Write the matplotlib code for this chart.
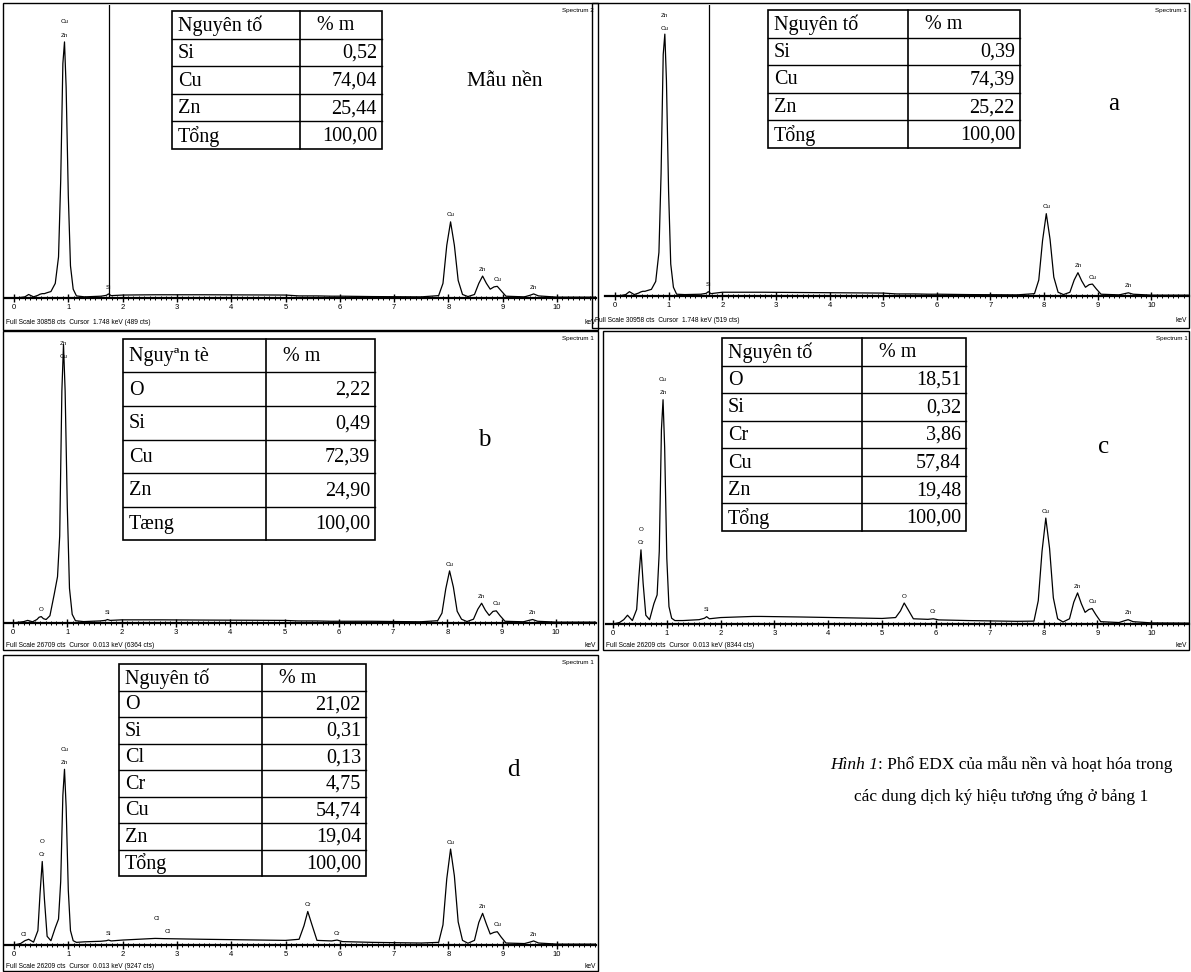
import matplotlib
matplotlib.use("Agg")
import matplotlib.pyplot as plt
import numpy as np
from matplotlib.patches import Rectangle

W, H = 1191, 972

# energy grid (keV) shared by the five EDX spectra
kev = [0.00, 0.12, 0.20, 0.27, 0.36, 0.44, 0.48, 0.52, 0.56, 0.61,
       0.68, 0.76, 0.82, 0.86, 0.90, 0.93, 0.96, 1.00, 1.04, 1.09,
       1.15, 1.30, 1.60, 1.70, 1.74, 1.79, 2.00, 2.60, 2.75, 3.50,
       5.00, 5.25, 5.34, 5.41, 5.48, 5.58, 5.85, 5.95, 6.05, 6.60,
       7.50, 7.82, 7.90, 7.97, 8.04, 8.11, 8.18, 8.26, 8.36, 8.48,
       8.56, 8.63, 8.70, 8.77, 8.84, 8.90, 8.97, 9.06, 9.40, 9.50,
       9.57, 9.66, 10.00, 10.75]

# counts
cts_nen = [0, 60, 120, 370, 120, 280, 400, 460, 460, 560,
           680, 1540, 4320, 12340, 24690, 26970, 22220, 10800, 3390, 930,
           220, 120, 190, 280, 430, 250, 310, 340, 340, 340,
           310, 220, 220, 220, 220, 220, 190, 190, 190, 150,
           120, 250, 1540, 5550, 8020, 5550, 1850, 370, 150, 370,
           1540, 2310, 1540, 930, 1170, 1230, 770, 190, 120, 280,
           430, 220, 90, 90]
cts_a = [0, 60, 150, 460, 150, 310, 430, 500, 500, 590,
         710, 1550, 4640, 13000, 25700, 27860, 22910, 11150, 3410, 930,
         190, 150, 190, 280, 460, 250, 400, 400, 400, 370,
         310, 220, 220, 220, 220, 220, 190, 190, 190, 150,
         120, 250, 1700, 5880, 8760, 6040, 2010, 400, 150, 400,
         1700, 2480, 1610, 930, 1210, 1270, 770, 190, 120, 250,
         340, 190, 90, 90]
cts_b = [0, 80, 130, 240, 110, 320, 530, 590, 400, 320,
         670, 2670, 4270, 8010, 21370, 25640, 21370, 10680, 3200, 800,
         210, 130, 190, 240, 320, 240, 290, 290, 290, 270,
         240, 190, 190, 190, 190, 190, 160, 160, 160, 160,
         110, 210, 910, 3150, 4800, 3310, 1080, 350, 130, 350,
         1270, 1820, 1170, 700, 1070, 1120, 670, 160, 110, 240,
         320, 160, 80, 80]
cts_c = [0, 130, 390, 790, 310, 1310, 4190, 6680, 3670, 790,
         390, 1830, 2620, 6550, 17500, 20200, 15900, 5900, 1570, 520,
         310, 310, 390, 520, 660, 470, 580, 680, 680, 630,
         500, 580, 1180, 1890, 1310, 470, 420, 470, 370, 310,
         240, 260, 2100, 6550, 9540, 6810, 2360, 470, 180, 470,
         1970, 2800, 1830, 1050, 1310, 1390, 840, 210, 130, 290,
         390, 210, 100, 80]
cts_d = [0, 130, 390, 520, 260, 1310, 4720, 7600, 4190, 790,
         390, 1570, 2360, 5770, 13630, 15990, 12580, 4980, 1310, 390,
         240, 290, 340, 390, 450, 370, 450, 600, 580, 520,
         420, 520, 1750, 3050, 1950, 420, 370, 450, 310, 240,
         180, 240, 1830, 6030, 8730, 6290, 2100, 420, 160, 420,
         2050, 2880, 1900, 1000, 1150, 1210, 730, 180, 130, 260,
         370, 180, 80, 80]

full_scale = [30858, 30958, 26709, 26209, 26209]
cursor_txt = ["Full Scale 30858 cts  Cursor  1.748 keV (489 cts)",
              "Full Scale 30958 cts  Cursor  1.748 keV (519 cts)",
              "Full Scale 26709 cts  Cursor  0.013 keV (6364 cts)",
              "Full Scale 26209 cts  Cursor  0.013 keV (8344 cts)",
              "Full Scale 26209 cts  Cursor  0.013 keV (9247 cts)"]
spectrum_name = ["Spectrum 2", "Spectrum 1", "Spectrum 1", "Spectrum 1", "Spectrum 1"]
cursor_kev = [1.748, 1.748, None, None, None]

# peak labels: (element, keV, stack level)
peaks_nen = [("Zn", 0.93, 0), ("Cu", 0.93, 1), ("Si", 1.74, 0), ("Cu", 8.04, 0),
             ("Zn", 8.63, 0), ("Cu", 8.90, 0), ("Zn", 9.57, 0)]
peaks_a = [("Cu", 0.93, 0), ("Zn", 0.93, 1), ("Si", 1.74, 0), ("Cu", 8.04, 0),
           ("Zn", 8.63, 0), ("Cu", 8.90, 0), ("Zn", 9.57, 0)]
peaks_b = [("Cu", 0.93, 0), ("Zn", 0.93, 1), ("O", 0.52, 0), ("Si", 1.74, 0),
           ("Cu", 8.04, 0), ("Zn", 8.63, 0), ("Cu", 8.90, 0), ("Zn", 9.57, 0)]
peaks_c = [("Cr", 0.52, 0), ("O", 0.52, 1), ("Zn", 0.93, 0), ("Cu", 0.93, 1),
           ("Si", 1.74, 0), ("O", 5.41, 0), ("Cr", 5.95, 0), ("Cu", 8.04, 0),
           ("Zn", 8.63, 0), ("Cu", 8.90, 0), ("Zn", 9.57, 0)]
peaks_d = [("Cl", 0.18, 0), ("Cr", 0.52, 0), ("O", 0.52, 1), ("Zn", 0.93, 0),
           ("Cu", 0.93, 1), ("Si", 1.74, 0), ("Cl", 2.62, 1), ("Cl", 2.82, 0),
           ("Cr", 5.41, 0), ("Cr", 5.95, 0), ("Cu", 8.04, 0), ("Zn", 8.63, 0),
           ("Cu", 8.90, 0), ("Zn", 9.57, 0)]

# composition tables (% mass)
el_nen = ["Si", "Cu", "Zn"]
pct_nen = [0.52, 74.04, 25.44]
el_a = ["Si", "Cu", "Zn"]
pct_a = [0.39, 74.39, 25.22]
el_b = ["O", "Si", "Cu", "Zn"]
pct_b = [2.22, 0.49, 72.39, 24.90]
el_c = ["O", "Si", "Cr", "Cu", "Zn"]
pct_c = [18.51, 0.32, 3.86, 57.84, 19.48]
el_d = ["O", "Si", "Cl", "Cr", "Cu", "Zn"]
pct_d = [21.02, 0.31, 0.13, 4.75, 54.74, 19.04]
tong = [100.00, 100.00, 100.00, 100.00, 100.00]
head1 = ["Nguyên tố", "Nguyên tố", "Nguy\u00aan tè", "Nguyên tố", "Nguyên tố"]
total_label = ["Tổng", "Tổng", "Tæng", "Tổng", "Tổng"]
sample_tag = ["Mẫu nền", "a", "b", "c", "d"]

SERIF = "Liberation Serif"
SANS = "Liberation Sans"

fig = plt.figure(figsize=(W / 100, H / 100), dpi=100)
ov = fig.add_axes([0, 0, 1, 1], zorder=10)
ov.set_xlim(0, W)
ov.set_ylim(H, 0)
ov.axis("off")
ov.patch.set_alpha(0)

# layout in pixels: box, axes (left, top, right, baseline), x of 0 keV and 10 keV,
# table (left, divider, right, top, bottom), tag position
layout = [
    dict(box=(3, 3, 598, 330), ax=(5, 5, 596, 298), k0=14, k10=557,
         tbl=(172, 300, 382, 11, 149), tag=(505, 81), fs=15.5, lab_y=322),
    dict(box=(592, 3, 1189, 328), ax=(605, 5, 1189, 296), k0=615, k10=1155,
         tbl=(768, 908, 1020, 10, 148), tag=(1114, 104), fs=18, lab_y=320),
    dict(box=(3, 331, 598, 650), ax=(5, 333, 596, 623), k0=13, k10=556,
         tbl=(123, 266, 375, 339, 540), tag=(484, 440), fs=18, lab_y=645),
    dict(box=(603, 331, 1189, 650), ax=(606, 333, 1189, 624), k0=613, k10=1153,
         tbl=(722, 862, 966, 338, 531), tag=(1104, 447), fs=18, lab_y=645),
    dict(box=(3, 655, 598, 971), ax=(5, 657, 596, 945), k0=14, k10=557,
         tbl=(119, 262, 366, 664, 876), tag=(513, 770), fs=18, lab_y=966),
]

spectra = [cts_nen, cts_a, cts_b, cts_c, cts_d]
peak_sets = [peaks_nen, peaks_a, peaks_b, peaks_c, peaks_d]
tables = [(el_nen, pct_nen), (el_a, pct_a), (el_b, pct_b), (el_c, pct_c), (el_d, pct_d)]
TFS = 14.5


def fmt(v):
    return f"{v:.2f}".replace(".", ",")


for i, L in enumerate(layout):
    l, t, r, b = L["ax"]
    ax = fig.add_axes([l / W, 1 - b / H, (r - l) / W, (b - t) / H])
    s = (L["k10"] - L["k0"]) / 10.0
    ax.set_xlim((l - L["k0"]) / s, (r - L["k0"]) / s)
    fsc = full_scale[i]
    ax.set_ylim(0, fsc)
    ax.plot(kev, spectra[i], color="black", lw=0.9)
    if cursor_kev[i] is not None:
        ax.axvline(cursor_kev[i], color="black", lw=0.9)
    for sp in ["top", "left", "right"]:
        ax.spines[sp].set_visible(False)
    ax.spines["bottom"].set_linewidth(1.6)
    ax.set_yticks([])
    ax.set_xticks(range(0, 11))
    ax.set_xticks(np.arange(0, 10.75, 0.1), minor=True)
    ax.tick_params(axis="x", which="major", direction="inout", length=6, width=1.0,
                   labelsize=5.5, pad=1.5)
    ax.tick_params(axis="x", which="minor", direction="inout", length=3, width=0.7)
    for lb in ax.get_xticklabels():
        lb.set_fontfamily(SANS)
    ax.patch.set_alpha(0)
    ax.text(0.997, 0.99, spectrum_name[i], transform=ax.transAxes, ha="right", va="top",
            fontsize=4.5, family=SANS)

    # peak labels stacked above each peak
    groups = {}
    for name, e, lvl in peak_sets[i]:
        groups.setdefault(e, []).append((lvl, name))
    for e, items in groups.items():
        base = np.interp(e, kev, spectra[i]) / fsc
        top = base + 0.015 + 0.045 * max(x[0] for x in items) + 0.04
        shift = max(0.0, top - 0.995)
        for lvl, name in items:
            ax.text(e, base + 0.015 + 0.045 * lvl - shift, name,
                    transform=ax.get_xaxis_transform(), ha="center", va="bottom",
                    fontsize=4.5, family=SANS)

    # outer frame and footer text
    bl, bt, br, bb = L["box"]
    ov.add_patch(Rectangle((bl, bt), br - bl, bb - bt, fill=False, lw=1.0, ec="black"))
    ov.text(bl + 3, L["lab_y"], cursor_txt[i], fontsize=4.8, family=SANS, va="center", ha="left")
    ov.text(br - 2, L["lab_y"], "keV", fontsize=4.8, family=SANS, va="center", ha="right")

    # composition table
    tl, td, tr, tt, tb = L["tbl"]
    els, vals = tables[i]
    rows = [(head1[i], "% m")] + [(e, fmt(v)) for e, v in zip(els, vals)] + \
           [(total_label[i], fmt(tong[i]))]
    rh = (tb - tt) / len(rows)
    ov.add_patch(Rectangle((tl, tt), tr - tl, tb - tt, fc="white", ec="black", lw=1.2))
    ov.plot([td, td], [tt, tb], color="black", lw=1.2)
    for k in range(1, len(rows)):
        ov.plot([tl, tr], [tt + k * rh, tt + k * rh], color="black", lw=1.0)
    for k, (c1, c2) in enumerate(rows):
        yc = tt + (k + 0.5) * rh + 1
        ov.text(tl + 6, yc, c1, fontsize=TFS, family=SERIF, va="center", ha="left")
        if k == 0:
            ov.text(td + 17, yc, c2, fontsize=TFS, family=SERIF, va="center", ha="left")
        else:
            ov.text(tr - 5, yc, c2, fontsize=TFS, family=SERIF, va="center", ha="right")

    ov.text(L["tag"][0], L["tag"][1], sample_tag[i], fontsize=L["fs"],
            family=SERIF, ha="center", va="center")

# caption
renderer = fig.canvas.get_renderer()
cap_fs = 12.5
cx = 1001
it = ov.text(0, 0, "Hình 1", fontsize=cap_fs, family=SERIF, style="italic")
rest = ov.text(0, 0, ": Phổ EDX của mẫu nền và hoạt hóa trong", fontsize=cap_fs, family=SERIF)
w1 = it.get_window_extent(renderer).width
w2 = rest.get_window_extent(renderer).width
x_start = cx - (w1 + w2) / 2
it.set_position((x_start, 765))
it.set_va("center")
rest.set_position((x_start + w1, 765))
rest.set_va("center")
ov.text(cx, 797, "các dung dịch ký hiệu tương ứng ở bảng 1", fontsize=cap_fs, family=SERIF,
        ha="center", va="center")

fig.savefig("out.png", dpi=100)
